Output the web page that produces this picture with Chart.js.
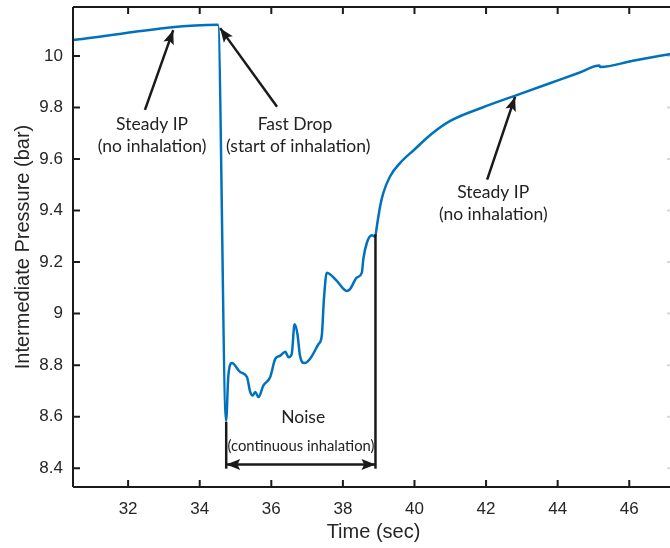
<!DOCTYPE html>
<html>
<head>
<meta charset="utf-8">
<script src="https://cdn.jsdelivr.net/npm/chart.js@4.4.1/dist/chart.umd.min.js"></script>
<style>
  html, body { margin: 0; padding: 0; background: #fff; overflow: hidden; }
  #wrap { width: 670px; height: 548px; overflow: hidden; }
</style>
</head>
<body>
<div id="wrap"><canvas id="ipChart" width="676" height="548"></canvas></div>
<script>
(function() {
    "use strict";

    // Data
    var times = [30.46, 34.51, 34.737, 34.80, 34.90, 35.13, 35.32, 35.41, 35.48, 35.55,
        35.64, 35.78, 35.97, 36.11, 36.25, 36.39, 36.48, 36.57, 36.65, 36.73,
        36.80, 36.92, 37.08, 37.32, 37.41, 37.47, 37.55, 37.64, 37.83, 38.11,
        38.20, 38.39, 38.53, 38.57, 38.67, 38.81, 38.90, 38.95, 39.04, 39.13,
        39.32, 39.60, 40.00, 40.50, 41.00, 41.90, 42.80, 43.80, 44.60, 45.17,
        45.19, 46.10, 47.25];
    var pressure = [10.062, 10.121, 8.584, 8.759, 8.808, 8.773, 8.754, 8.696, 8.682, 8.696,
        8.676, 8.721, 8.754, 8.824, 8.837, 8.852, 8.831, 8.843, 8.959, 8.921,
        8.837, 8.808, 8.824, 8.882, 8.914, 9.056, 9.159, 9.153, 9.127, 9.088,
        9.095, 9.140, 9.159, 9.211, 9.275, 9.304, 9.298, 9.340, 9.417, 9.469,
        9.533, 9.585, 9.637, 9.700, 9.748, 9.800, 9.845, 9.895, 9.935, 9.963,
        9.957, 9.981, 10.010];
    var xTicks = [32, 34, 36, 38, 40, 42, 44, 46];
    var yTicks = [8.4, 8.6, 8.8, 9, 9.2, 9.4, 9.6, 9.8, 10];

    // Annotations, in data units
    var notes = [
        { text: 'Steady IP', at: [32.67, 9.733], size: 17.5 },
        { text: '(no inhalation)', at: [32.67, 9.648], size: 17.5 },
        { text: 'Fast Drop', at: [36.66, 9.733], size: 17.5 },
        { text: '(start of inhalation)', at: [36.75, 9.648], size: 17.5 },
        { text: 'Steady IP', at: [42.20, 9.470], size: 17.5 },
        { text: '(no inhalation)', at: [42.20, 9.385], size: 17.5 },
        { text: 'Noise', at: [36.89, 8.596], size: 17.5 },
        { text: '(continuous inhalation)', at: [36.83, 8.487], size: 14.8 }
    ];
    var arrows = [
        { from: [32.47, 9.791], to: [33.26, 10.100] },
        { from: [36.16, 9.803], to: [34.57, 10.108] },
        { from: [42.03, 9.520], to: [42.81, 9.841] },
        { from: [34.74, 8.414], to: [38.91, 8.414], both: true }
    ];
    var brackets = [
        [[34.74, 8.58], [34.74, 8.398]],
        [[38.91, 9.308], [38.91, 8.398]]
    ];

    var points = times.map(function(t, i) { return { x: t, y: pressure[i] }; });

    function head(ctx, x0, y0, x1, y1) {
        var ang = Math.atan2(y1 - y0, x1 - x0);
        var len = 14, half = 5.5;
        ctx.beginPath();
        ctx.moveTo(x1, y1);
        ctx.lineTo(x1 - len * Math.cos(ang) + half * Math.sin(ang), y1 - len * Math.sin(ang) - half * Math.cos(ang));
        ctx.lineTo(x1 - len * Math.cos(ang) * 0.8, y1 - len * Math.sin(ang) * 0.8);
        ctx.lineTo(x1 - len * Math.cos(ang) - half * Math.sin(ang), y1 - len * Math.sin(ang) + half * Math.cos(ang));
        ctx.closePath();
        ctx.fill();
    }

    // Frame, inward ticks, arrows and labels
    var frameAndNotes = {
        id: 'frameAndNotes',
        afterDatasetsDraw: function(chart) {
            var ctx = chart.ctx, a = chart.chartArea;
            var sx = chart.scales.x, sy = chart.scales.y;
            ctx.save();
            ctx.strokeStyle = '#1a1a1a';
            ctx.fillStyle = '#1a1a1a';
            ctx.lineWidth = 2;
            ctx.beginPath();
            ctx.moveTo(a.left, a.top); ctx.lineTo(a.right, a.top);
            ctx.moveTo(a.left, a.bottom); ctx.lineTo(a.right, a.bottom);
            ctx.moveTo(a.left, a.top); ctx.lineTo(a.left, a.bottom);
            ctx.moveTo(a.right, a.top); ctx.lineTo(a.right, a.bottom);
            xTicks.forEach(function(v) {
                var px = sx.getPixelForValue(v);
                ctx.moveTo(px, a.bottom); ctx.lineTo(px, a.bottom - 7);
                ctx.moveTo(px, a.top); ctx.lineTo(px, a.top + 7);
            });
            yTicks.forEach(function(v) {
                var py = sy.getPixelForValue(v);
                ctx.moveTo(a.left, py); ctx.lineTo(a.left + 7, py);
            });
            ctx.stroke();
            // right-hand ticks are only just in view, so keep them faint
            ctx.strokeStyle = 'rgba(0,0,0,0.15)';
            ctx.beginPath();
            yTicks.forEach(function(v) {
                var py = sy.getPixelForValue(v);
                ctx.moveTo(a.right, py); ctx.lineTo(a.right - 7, py);
            });
            ctx.stroke();
            ctx.strokeStyle = '#1a1a1a';

            ctx.lineWidth = 2.5;
            brackets.forEach(function(b) {
                ctx.beginPath();
                ctx.moveTo(sx.getPixelForValue(b[0][0]), sy.getPixelForValue(b[0][1]));
                ctx.lineTo(sx.getPixelForValue(b[1][0]), sy.getPixelForValue(b[1][1]));
                ctx.stroke();
            });
            arrows.forEach(function(ar) {
                var x0 = sx.getPixelForValue(ar.from[0]), y0 = sy.getPixelForValue(ar.from[1]);
                var x1 = sx.getPixelForValue(ar.to[0]), y1 = sy.getPixelForValue(ar.to[1]);
                ctx.beginPath();
                ctx.moveTo(x0, y0); ctx.lineTo(x1, y1);
                ctx.stroke();
                head(ctx, x0, y0, x1, y1);
                if (ar.both) head(ctx, x1, y1, x0, y0);
            });

            ctx.textAlign = 'center';
            ctx.textBaseline = 'middle';
            ctx.fillStyle = '#222';
            notes.forEach(function(n) {
                ctx.font = n.size + 'px Lato, "Open Sans", sans-serif';
                ctx.fillText(n.text, sx.getPixelForValue(n.at[0]), sy.getPixelForValue(n.at[1]));
            });
            ctx.restore();
        }
    };

    var tickFont = { family: '"Liberation Sans", Arial, sans-serif', size: 17 };
    var titleFont = { family: '"Liberation Sans", Arial, sans-serif', size: 20 };

    new Chart(document.getElementById('ipChart').getContext('2d'), {
        type: 'line',
        data: {
            datasets: [{
                data: points,
                borderColor: '#0072BD',
                borderWidth: 2.5,
                pointRadius: 0,
                cubicInterpolationMode: 'monotone',
                fill: false
            }]
        },
        options: {
            responsive: false,
            animation: false,
            layout: { padding: { top: 7, right: 2, left: 0, bottom: 0 } },
            plugins: { legend: { display: false }, tooltip: { enabled: false } },
            scales: {
                x: {
                    type: 'linear',
                    min: 30.46,
                    max: 47.25,
                    grid: { display: false, drawTicks: false },
                    border: { display: false },
                    afterBuildTicks: function(scale) {
                        scale.ticks = xTicks.map(function(v) { return { value: v }; });
                    },
                    afterFit: function(scale) {
                        scale.height = 61;
                        scale.paddingLeft = 0;
                        scale.paddingRight = 0;
                    },
                    ticks: {
                        color: '#262626',
                        font: tickFont,
                        padding: 12,
                        maxRotation: 0,
                        autoSkip: false
                    },
                    title: {
                        display: true,
                        text: 'Time (sec)',
                        color: '#262626',
                        font: titleFont,
                        padding: { top: 0, bottom: 4 }
                    }
                },
                y: {
                    min: 8.327,
                    max: 10.19,
                    grid: { display: false, drawTicks: false },
                    border: { display: false },
                    afterBuildTicks: function(scale) {
                        scale.ticks = yTicks.map(function(v) { return { value: v }; });
                    },
                    afterFit: function(scale) {
                        scale.width = 73;
                        scale.paddingTop = 0;
                        scale.paddingBottom = 0;
                    },
                    ticks: {
                        color: '#262626',
                        font: tickFont,
                        padding: 10,
                        callback: function(v) { return String(Number(v.toFixed(1))); }
                    },
                    title: {
                        display: true,
                        text: 'Intermediate Pressure (bar)',
                        color: '#262626',
                        font: titleFont,
                        padding: { top: 11, bottom: 0 }
                    }
                }
            }
        },
        plugins: [frameAndNotes]
    });
})();
</script>
</body>
</html>
